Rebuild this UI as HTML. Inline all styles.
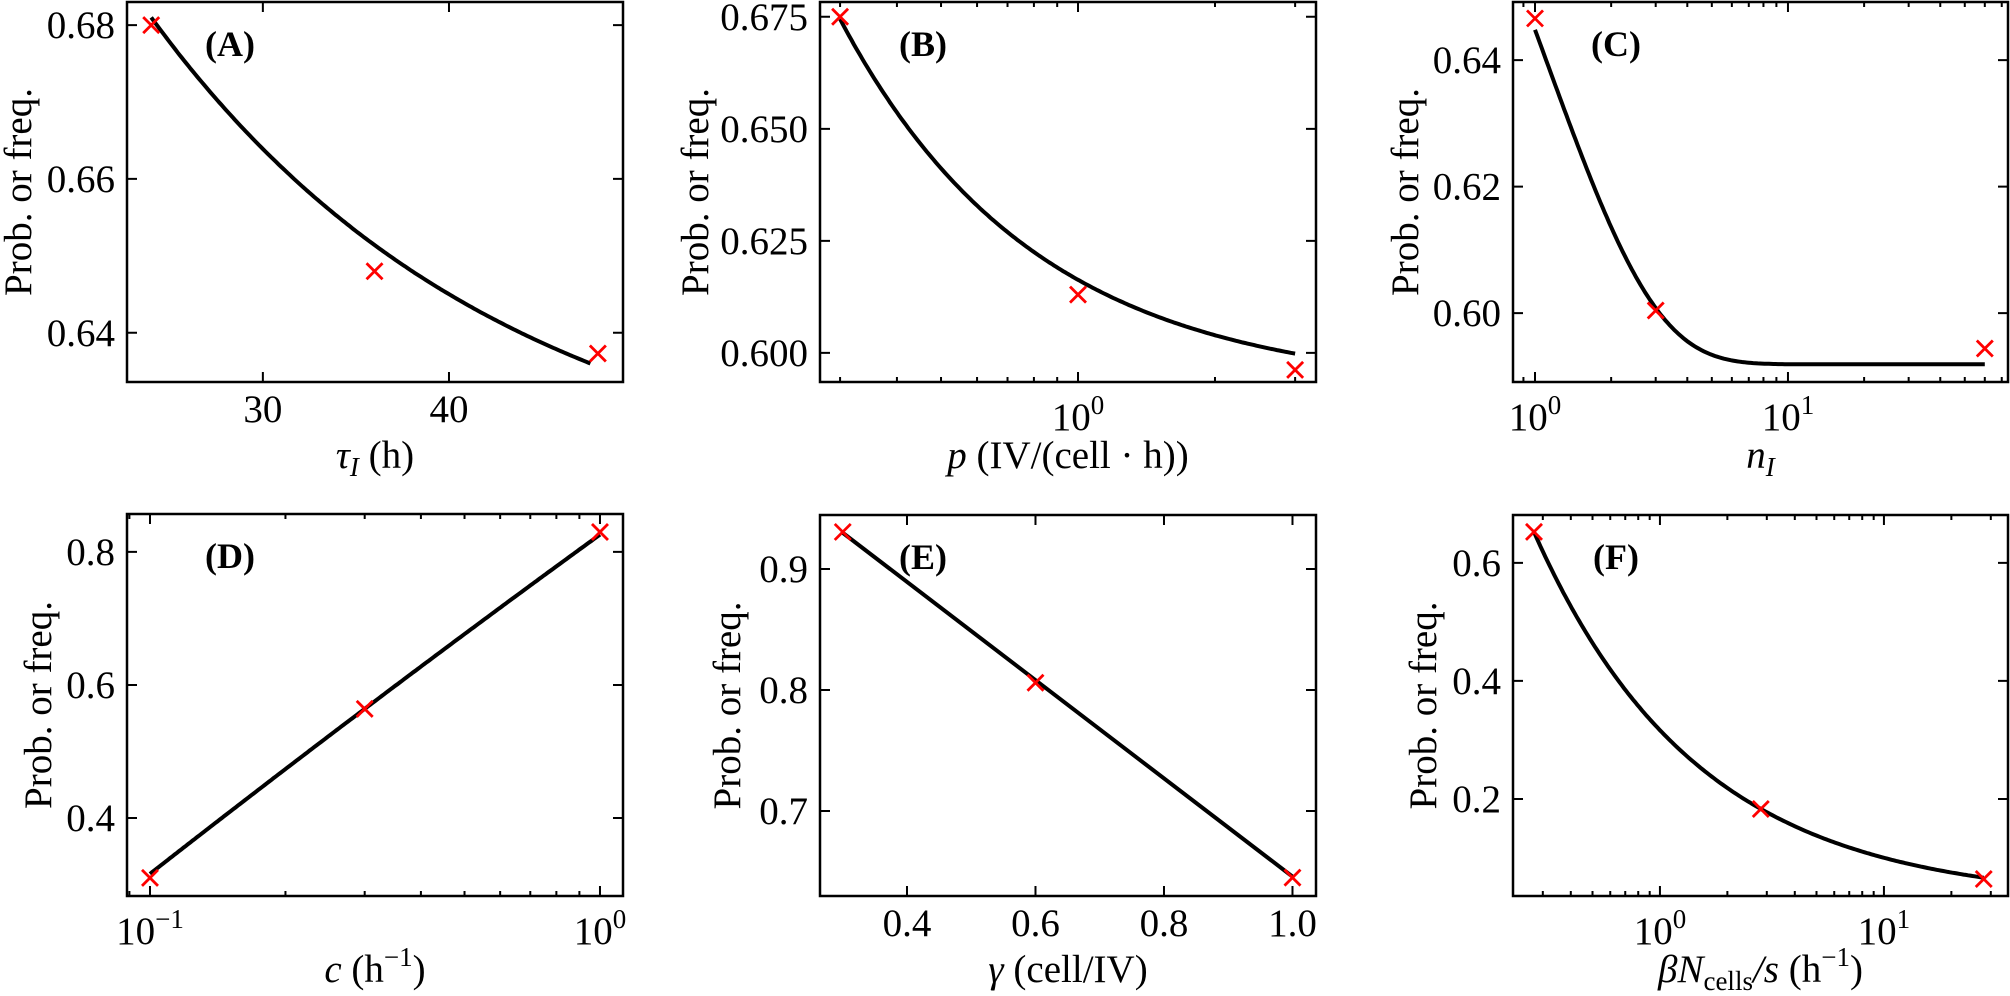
<!DOCTYPE html>
<html><head><meta charset="utf-8"><style>
html,body{margin:0;padding:0;background:#fff}
svg{display:block}
text{font-family:"Liberation Serif","DejaVu Serif",serif;fill:#000}
</style></head><body>
<svg id="s" width="2010" height="996" viewBox="0 0 2010 996" xmlns="http://www.w3.org/2000/svg"></svg>
<script>
const S=document.getElementById('s');let h='';
const L10=Math.log10;
function ax(c){
  const {px,py}=c;
  const fx = c.xlog ? v=>px[0]+(L10(v)-L10(c.x[0]))/(L10(c.x[1])-L10(c.x[0]))*(px[1]-px[0])
                    : v=>px[0]+(v-c.x[0])/(c.x[1]-c.x[0])*(px[1]-px[0]);
  const fy = v=>py[0]+(v-c.y[0])/(c.y[1]-c.y[0])*(py[1]-py[0]);
  c.fx=fx;c.fy=fy;
  const x0=px[0],x1=px[1],yb=py[0],yt=py[1];
  let t='';
  for(const v of c.yt){const y=fy(v);
    t+=`M${x0} ${y}h10M${x1} ${y}h-10`;
    h+=`<text x="${x0-12}" y="${y+13}" font-size="39" text-anchor="end">${v.toFixed(c.yd)}</text>`;}
  if(c.xlog){
    const a=Math.floor(L10(c.x[0])),b=Math.ceil(L10(c.x[1]));
    for(let e=a;e<=b;e++){for(let m=1;m<10;m++){const v=m*Math.pow(10,e);
      if(v<c.x[0]||v>c.x[1])continue;const x=fx(v);
      const len=m==1?10:5;t+=`M${x} ${yb}v-${len}M${x} ${yt}v${len}`;
      if(m==1)h+=`<text x="${x}" y="${yb+48}" font-size="39" text-anchor="middle">10<tspan dy="-16" font-size="27">${e<0?'−'+(-e):e}</tspan></text>`;}}
  } else {
    for(const v of c.xt){const x=fx(v);t+=`M${x} ${yb}v-10M${x} ${yt}v10`;
      h+=`<text x="${x}" y="${yb+40}" font-size="39" text-anchor="middle">${v.toFixed(c.xd)}</text>`;}
  }
  h+=`<path d="${t}" stroke="#000" stroke-width="2" fill="none"/>`;
  h+=`<rect x="${x0}" y="${yt}" width="${x1-x0}" height="${yb-yt}" fill="none" stroke="#000" stroke-width="2.5"/>`;
  h+=`<text transform="translate(${c.yl+13},${(yb+yt)/2}) rotate(-90)" font-size="39" text-anchor="middle">Prob. or freq.</text>`;
  h+=`<text x="${x0+103}" y="${yt+54}" font-size="36" font-weight="bold" text-anchor="middle">(${c.n})</text>`;
  h+=`<text x="${(x0+x1)/2}" y="${yb+86}" font-size="39" text-anchor="middle">${c.xl}</text>`;
}
function curveF(c,f,a,b,log){let d='';const N=200;
  for(let i=0;i<=N;i++){let v=log?Math.pow(10,L10(a)+(L10(b)-L10(a))*i/N):a+(b-a)*i/N;
    d+=(i?'L':'M')+c.fx(v).toFixed(1)+' '+c.fy(f(v)).toFixed(1);}
  h+=`<path d="${d}" stroke="#000" stroke-width="4" fill="none"/>`;}
function mk(c,pts){for(const [x,y] of pts){const X=c.fx(x),Y=c.fy(y),r=8;
  h+=`<path d="M${X-r} ${Y-r}L${X+r} ${Y+r}M${X-r} ${Y+r}L${X+r} ${Y-r}" stroke="#f00" stroke-width="2.8"/>`;}}

const A={n:'A',px:[127,623],py:[382,2],x:[22.7,49.35],y:[0.6336,0.683],xt:[30,40],xd:0,yt:[0.64,0.66,0.68],yd:2,yl:18,
 xl:'<tspan font-style="italic">τ</tspan><tspan font-style="italic" font-size="27" dy="8">I</tspan><tspan dy="-8"> (h)</tspan>'};
const B={n:'B',px:[820,1316],py:[382,2],xlog:1,x:[Math.pow(10,-0.567),Math.pow(10,0.523)],y:[0.5935,0.6783],yt:[0.600,0.625,0.650,0.675],yd:3,yl:695,
 xl:'<tspan font-style="italic">p</tspan> (IV/(cell · h))'};
const C={n:'C',px:[1513,2008],py:[382,2],xlog:1,x:[0.8185,74.1],y:[0.5891,0.6492],yt:[0.60,0.62,0.64],yd:2,yl:1405,
 xl:'<tspan font-style="italic">n</tspan><tspan font-style="italic" font-size="27" dy="8">I</tspan>'};
const D={n:'D',px:[127,623],py:[896,514],xlog:1,x:[0.0889,1.125],y:[0.2827,0.857],yt:[0.4,0.6,0.8],yd:1,yl:38,
 xl:'<tspan font-style="italic">c</tspan> (h<tspan dy="-16" font-size="27">−1</tspan><tspan dy="16">)</tspan>'};
const E={n:'E',px:[820,1316],py:[896,515],x:[0.2646,1.0366],y:[0.6298,0.9446],xt:[0.4,0.6,0.8,1.0],xd:1,yt:[0.7,0.8,0.9],yd:1,yl:727,
 xl:'<tspan font-style="italic">γ</tspan> (cell/IV)'};
const F={n:'F',px:[1513,2008],py:[896,515],xlog:1,x:[0.2208,35.8],y:[0.0356,0.681],yt:[0.2,0.4,0.6],yd:1,yl:1423,
 xl:'<tspan font-style="italic">βN</tspan><tspan font-size="27" dy="8">cells</tspan><tspan dy="-8" font-style="italic">/s</tspan> (h<tspan dy="-16" font-size="27">−1</tspan><tspan dy="16">)</tspan>'};
[A,B,C,D,E,F].forEach(ax);
curveF(A,x=>0.6176+0.0634*Math.exp(-0.0524*(x-24)),24,47.6,0);
curveF(B,x=>0.5917+0.0828*Math.exp(-2.32*(L10(x)+0.523)),0.3,3,1);
curveF(C,x=>0.5919+0.0529*Math.exp(-0.891*(x-1)),1,60,1);
// D: quadratic in log10 through (-1,0.316),(-0.523,0.564),(0,0.826)
(function(){const u0=-1,u1=-0.523,u2=0,y0=0.316,y1=0.564,y2=0.826;
 const f=x=>{const u=L10(x);return y0*(u-u1)*(u-u2)/((u0-u1)*(u0-u2))+y1*(u-u0)*(u-u2)/((u1-u0)*(u1-u2))+y2*(u-u0)*(u-u1)/((u2-u0)*(u2-u1));};
 curveF(D,f,0.1,1,1);})();
h+=`<path d="M843 533L1293 877" stroke="#000" stroke-width="4"/>`;
curveF(F,x=>0.0265+0.626*Math.exp(-1.368*(L10(x)+0.5625)),0.274,27.9,1);
mk(A,[[24,0.680],[36,0.648],[48,0.6373]]);
mk(B,[[0.3,0.675],[1,0.613],[3,0.5962]]);
mk(C,[[1,0.6466],[3,0.6004],[60,0.5944]]);
mk(D,[[0.1,0.31],[0.3,0.564],[1,0.830]]);
mk(E,[[0.3,0.9306],[0.6,0.806],[1.0,0.645]]);
mk(F,[[0.274,0.6525],[2.82,0.183],[27.9,0.0644]]);
S.innerHTML=h;
</script>
</body></html>
